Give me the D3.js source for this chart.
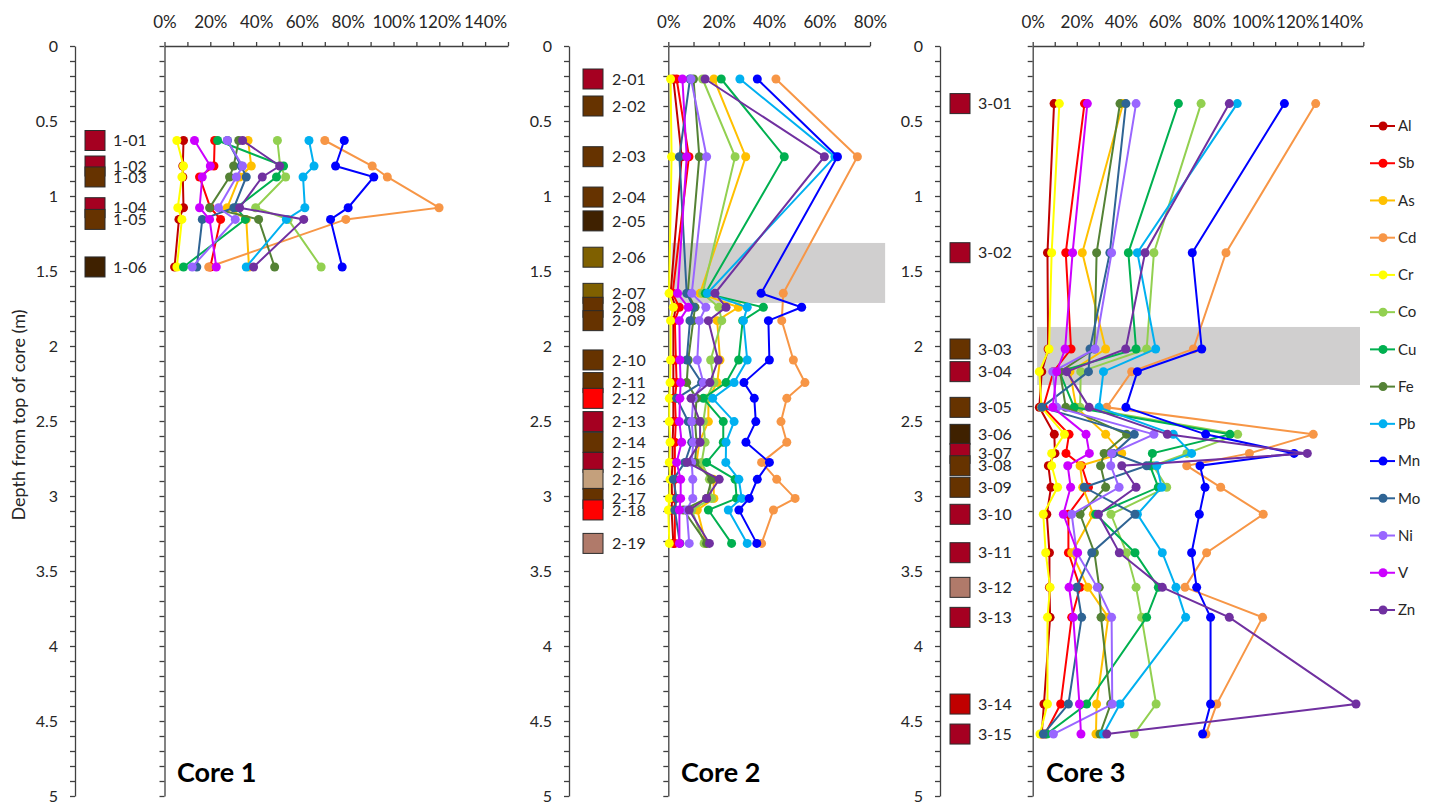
<!DOCTYPE html>
<html>
<head>
<meta charset="utf-8">
<script src="https://cdn.jsdelivr.net/npm/d3@7"></script>
<style>
  body { margin: 0; background: #fff; }
  svg text { font-family: Lato, "Open Sans", sans-serif; }
</style>
</head>
<body>
<svg id="chart" width="1430" height="803"></svg>
<script>
// ---- Elements (series) ----
const elements = ["Al", "Sb", "As", "Cd", "Cr", "Co", "Cu", "Fe", "Pb", "Mn", "Mo", "Ni", "V", "Zn"];
const elementColors = ["#C00000", "#FF0000", "#FFC000", "#F79646", "#FFFF00", "#92D050", "#00B050",
                       "#548235", "#00B0F0", "#0000FF", "#2F6494", "#9966FF", "#CC00FF", "#7030A0"];

// ---- Sample lithology colours ----
const CRIMSON = "#A50021", BROWN = "#663300", DARKBROWN = "#3F2100", OLIVE = "#7F6000",
      RED = "#FF0000", TAN = "#C4A07C", ROSY = "#B07A6A", DARKRED = "#C00000";

// ---- Core 1 ----
const core1Labels = ["1-01", "1-02", "1-03", "1-04", "1-05", "1-06"];
const core1Depths = [0.63, 0.80, 0.873, 1.078, 1.156, 1.473];
const core1BoxColors = [CRIMSON, CRIMSON, BROWN, CRIMSON, BROWN, DARKBROWN];
// percent values, one row per element (same order as `elements`)
const core1Values = [
  [8.3, 8.0, 8.0, 8.3, 6.3, 4.4],         // Al
  [21.9, 21.6, 15.3, 20.0, 24.5, 20.0],   // Sb
  [36.5, 37.9, 32.8, 27.4, 35.7, 36.9],   // As
  [70.0, 90.7, 97.3, 119.9, 79.2, 19.3],  // Cd
  [5.4, 8.3, 7.6, 5.8, 7.6, 5.4],         // Cr
  [49.3, 50.5, 52.9, 39.8, 54.0, 68.4],   // Co
  [23.2, 52.0, 48.9, 31.4, 35.3, 8.3],    // Cu
  [32.4, 30.2, 28.4, 19.7, 41.1, 48.1],   // Fe
  [63.1, 65.3, 60.5, 61.3, 53.2, 35.7],   // Pb
  [78.5, 74.7, 91.4, 80.2, 72.5, 77.6],   // Mn
  [27.5, 33.5, 35.7, 30.3, 16.5, 14.1],   // Mo
  [27.4, 34.1, 31.4, 23.6, 30.9, 12.1],   // Ni
  [13.1, 20.0, 16.5, 15.3, 19.7, 22.6],   // V
  [34.1, 50.3, 42.7, 32.8, 60.8, 38.9]    // Zn
];

// ---- Core 2 ----
const core2Labels = ["2-01", "2-02", "2-03", "2-04", "2-05", "2-06", "2-07", "2-08", "2-09", "2-10",
                     "2-11", "2-12", "2-13", "2-14", "2-15", "2-16", "2-17", "2-18", "2-19"];
const core2Depths = [0.22, 0.40, 0.738, 1.007, 1.166, 1.408, 1.649, 1.742, 1.831, 2.093,
                     2.244, 2.349, 2.504, 2.642, 2.776, 2.889, 3.016, 3.093, 3.316];
const core2BoxColors = [CRIMSON, BROWN, BROWN, BROWN, DARKBROWN, OLIVE, OLIVE, BROWN, BROWN, BROWN,
                        BROWN, RED, CRIMSON, BROWN, CRIMSON, TAN, BROWN, RED, ROSY];
const core2Values = [
  [2.0, null, 5.3, null, null, null, 0.9, 3.0, 2.0, 2.0, 2.0, 2.0, 2.0, 1.7, 1.7, 1.3, 1.5, 1.3, 2.0],          // Al
  [3.3, null, 8.2, null, null, null, 1.7, 4.4, 2.6, 3.0, 3.3, 2.6, 3.0, 2.6, 2.6, 2.6, 2.6, 2.6, 2.6],          // Sb
  [18.1, null, 30.7, null, null, null, 12.6, 27.8, 19.4, 20.5, 19.4, 15.9, 15.9, 12.3, 11.2, 17.9, 18.1, 11.5, 14.9], // As
  [42.7, null, 75.0, null, null, null, 45.6, null, 45.0, 49.6, 54.2, 47.0, 44.7, 47.0, 37.0, 43.0, 50.3, 41.7, 37.0], // Cd
  [0.9, null, 1.3, null, null, null, 0.3, 2.0, 0.9, 0.9, 0.7, 0.4, 0.4, 0.7, 0.4, 0.7, 0.4, 0.0, 0.4],          // Cr
  [13.6, null, 26.5, null, null, null, 13.6, 20.0, 21.2, 16.8, 18.1, 15.2, 13.9, 14.6, 13.2, 16.3, 17.2, 9.3, 14.2], // Co
  [21.0, null, 46.0, null, null, null, 14.7, 37.7, 29.5, 27.9, 22.9, 13.9, 21.8, 21.8, 15.2, 26.5, 27.1, 15.9, 25.1], // Cu
  [10.0, null, 12.3, null, null, null, 7.7, 10.6, 9.9, 7.9, 7.3, 11.2, 10.6, 11.2, 10.6, 17.2, 15.2, 6.0, 15.2],  // Fe
  [28.4, null, 66.1, null, null, null, 15.5, 31.3, 29.8, 31.3, 26.1, 17.6, 26.1, 22.9, 22.8, 28.0, 29.1, 23.8, 31.3], // Pb
  [35.3, null, 67.1, null, null, null, 36.8, 52.9, 39.7, 40.1, 30.0, 34.1, 34.7, 30.8, 40.1, 35.3, 32.1, 28.0, 35.1], // Mn
  [8.6, null, 4.4, null, null, null, 7.3, 10.0, 8.6, 7.3, 13.2, 3.3, 7.9, 9.3, 6.6, 2.0, 3.3, 2.6, 4.6],        // Mo
  [9.0, null, 15.2, null, null, null, 9.3, 14.9, 12.3, 11.5, 13.9, 9.9, 9.3, 9.9, 9.3, 9.7, 9.7, 7.3, 8.3],      // Ni
  [5.6, null, 7.3, null, null, null, 3.7, 7.9, 4.4, 4.6, 4.9, 4.6, 4.4, 5.3, 3.3, 4.9, 4.9, 4.4, 4.4],          // V
  [14.6, null, 61.9, null, null, null, 18.5, 22.9, 15.9, 19.8, 16.5, 9.0, 12.6, 12.6, 7.5, 20.2, 15.2, 8.3, 16.3]  // Zn
];
const core2Band = [1.313, 1.713];

// ---- Core 3 ----
const core3Labels = ["3-01", "3-02", "3-03", "3-04", "3-05", "3-06", "3-07", "3-08", "3-09", "3-10",
                     "3-11", "3-12", "3-13", "3-14", "3-15"];
const core3Depths = [0.384, 1.378, 2.02, 2.171, 2.409, 2.589, 2.716, 2.798, 2.942, 3.122,
                     3.378, 3.609, 3.809, 4.387, 4.587];
const core3BoxColors = [CRIMSON, CRIMSON, BROWN, CRIMSON, BROWN, DARKBROWN, CRIMSON, BROWN, BROWN, CRIMSON,
                        CRIMSON, ROSY, CRIMSON, DARKRED, CRIMSON];
const core3Values = [
  [9.7, 6.7, 7.0, 4.1, 3.0, 9.8, 10.1, 7.1, 8.3, 6.4, 7.6, 7.6, 7.9, 5.1, 4.1],                 // Al
  [23.5, 15.0, 17.4, 9.4, 4.8, 16.5, 15.1, 22.2, 25.3, 16.2, 16.2, 21.5, 17.7, 12.7, 5.6],      // Sb
  [41.0, 22.5, 33.1, 16.9, 19.7, 33.1, 40.4, 21.5, 22.7, 27.5, 17.7, 25.0, 34.3, 29.0, 28.7],   // As
  [128.4, 87.7, 72.9, 44.9, 33.6, 127.3, 98.3, 69.9, 85.3, 104.6, 78.9, 69.1, 104.3, 83.5, 78.6], // Cd
  [12.1, 8.6, 7.4, 3.0, 4.0, 14.4, 8.6, 8.6, 11.3, 4.8, 5.9, 7.9, 6.7, 6.7, 3.3],               // Cr
  [76.4, 55.0, 51.7, 21.8, 21.5, 93.0, 70.0, 54.7, 60.8, 35.5, 42.6, 46.9, 49.4, 56.0, 46.1],   // Co
  [66.1, 43.4, 46.9, 12.1, 18.8, 89.5, 54.3, 53.2, 57.0, 28.6, 46.4, 57.0, 51.7, 24.5, 6.4],    // Cu
  [39.6, 29.0, 28.0, 12.4, 15.0, 42.6, 32.4, 30.8, 33.1, 21.5, 28.0, 30.2, 31.0, 35.4, 30.5],   // Fe
  [92.8, 47.5, 55.8, 32.1, 30.1, 63.8, 72.1, 56.3, 58.5, 47.5, 58.8, 65.0, 69.4, 39.6, 32.1],   // Pb
  [114.2, 72.4, 76.7, 47.5, 42.3, 78.5, 118.6, 75.9, 78.2, 75.6, 72.1, 74.4, 80.7, 80.7, 77.1], // Mn
  [42.3, 35.0, 26.0, 25.3, 4.1, 46.1, 36.6, 51.7, 23.4, 46.4, 26.8, 20.0, 22.2, 16.2, 4.8],     // Mo
  [46.9, 35.8, 28.3, 9.1, 10.9, 55.0, 35.8, 35.4, 39.2, 17.7, 20.0, 29.3, 35.8, 36.1, 9.4],     // Ni
  [24.8, 18.1, 14.7, 10.9, 9.1, 24.2, 25.7, 15.9, 17.2, 13.9, 20.4, 16.5, 18.4, 21.2, 21.9],    // V
  [89.2, 51.0, 42.2, 15.4, 25.6, 61.1, 124.6, 40.4, 46.9, 29.8, 39.3, 58.8, 89.2, 146.7, 33.6]  // Zn
];
const core3Band = [1.873, 2.26];

// ---- Axis settings ----
const depthTicks = d3.range(0, 51).map(i => i / 10);
const axisColor = "#404040";
const textColor = "#262626";

// ---- Layout ----
const svg = d3.select("#chart");
const y = d3.scaleLinear().domain([0, 5]).range([46, 796]);

const panels = [
  { labels: core1Labels, depths: core1Depths, boxColors: core1BoxColors, values: core1Values,
    xMax: 150, depthX: 75, x0: 164.5, x1: 508, boxX: 85, labelX: 113, title: "Core 1", titleX: 177 },
  { labels: core2Labels, depths: core2Depths, boxColors: core2BoxColors, values: core2Values,
    xMax: 80, depthX: 569, x0: 668.3, x1: 870, boxX: 583, labelX: 612, title: "Core 2", titleX: 681,
    band: core2Band, bandX: [1.3, 86] },
  { labels: core3Labels, depths: core3Depths, boxColors: core3BoxColors, values: core3Values,
    xMax: 150, depthX: 940, x0: 1032.7, x1: 1363.3, boxX: 950, labelX: 978, title: "Core 3", titleX: 1046,
    band: core3Band, bandX: [2, 148.5] }
];

function styleAxis(g, fontSize) {
  g.attr("font-family", null).attr("font-size", null);
  g.select(".domain").attr("stroke", axisColor).attr("stroke-width", 1.3);
  g.selectAll(".tick line").attr("stroke", axisColor).attr("stroke-width", 1.3);
  g.selectAll(".tick text").attr("fill", textColor).style("font-size", fontSize + "px");
}

const depthFmt = d => Math.abs(d * 2 - Math.round(d * 2)) < 1e-9 ? d3.format("~g")(d) : "";

panels.forEach(p => {
  const x = d3.scaleLinear().domain([0, p.xMax]).range([p.x0, p.x1]);
  const g = svg.append("g");

  // shaded interval
  if (p.band) {
    g.append("rect")
      .attr("x", x(p.bandX[0])).attr("width", x(p.bandX[1]) - x(p.bandX[0]))
      .attr("y", y(p.band[0])).attr("height", y(p.band[1]) - y(p.band[0]))
      .attr("fill", "#D0CFCF");
  }

  // depth axis with labels
  g.append("g").attr("transform", `translate(${p.depthX},0)`)
    .call(d3.axisLeft(y).tickValues(depthTicks).tickFormat(depthFmt).tickSize(5).tickSizeOuter(0).tickPadding(12))
    .call(a => styleAxis(a, 16));

  // inner depth axis at 0 %
  g.append("g").attr("transform", `translate(${p.x0},0)`)
    .call(d3.axisLeft(y).tickValues(depthTicks).tickFormat("").tickSize(5).tickSizeOuter(0))
    .call(a => styleAxis(a, 16));

  // concentration axis on top
  g.append("g").attr("transform", `translate(0,${y(0)})`)
    .call(d3.axisTop(x).tickValues(d3.range(0, p.xMax + 0.1, 10))
      .tickFormat(d => d % 20 === 0 ? d + "%" : "").tickSize(4).tickSizeOuter(0).tickPadding(14))
    .call(a => styleAxis(a, 17));

  // sample boxes and names
  p.labels.forEach((lab, i) => {
    const cy = y(p.depths[i]);
    g.append("rect").attr("x", p.boxX).attr("y", cy - 10).attr("width", 20).attr("height", 20)
      .attr("fill", p.boxColors[i]).attr("stroke", "#2b2b2b").attr("stroke-width", 1);
    g.append("text").attr("x", p.labelX).attr("y", cy).attr("dy", "0.35em")
      .attr("fill", textColor).style("font-size", "16px").text(lab);
  });

  // element profiles
  const line = d3.line().x(o => x(o.v)).y(o => y(o.d));
  elements.forEach((el, k) => {
    const pts = p.depths.map((d, i) => ({ d, v: p.values[k][i] })).filter(o => o.v != null);
    const sg = g.append("g");
    sg.append("path").datum(pts).attr("d", line)
      .attr("fill", "none").attr("stroke", elementColors[k]).attr("stroke-width", 2);
    sg.selectAll("circle").data(pts).join("circle")
      .attr("cx", o => x(o.v)).attr("cy", o => y(o.d)).attr("r", 4.5)
      .attr("fill", elementColors[k]);
  });

  // core title
  g.append("text").attr("x", p.titleX).attr("y", 782)
    .attr("fill", "#000").style("font-size", "27px").style("font-weight", "bold").text(p.title);
});

// depth axis title
svg.append("text")
  .attr("transform", "translate(25,415) rotate(-90)")
  .attr("text-anchor", "middle").attr("fill", textColor).style("font-size", "18px")
  .text("Depth from top of core (m)");

// legend
const legend = svg.append("g");
elements.forEach((el, k) => {
  const ly = 126 + k * 37.23;
  legend.append("line").attr("x1", 1370).attr("x2", 1395).attr("y1", ly).attr("y2", ly)
    .attr("stroke", elementColors[k]).attr("stroke-width", 2);
  legend.append("circle").attr("cx", 1383).attr("cy", ly).attr("r", 4.5).attr("fill", elementColors[k]);
  legend.append("text").attr("x", 1398).attr("y", ly).attr("dy", "0.35em")
    .attr("fill", textColor).style("font-size", "15px").text(el);
});
</script>
</body>
</html>
